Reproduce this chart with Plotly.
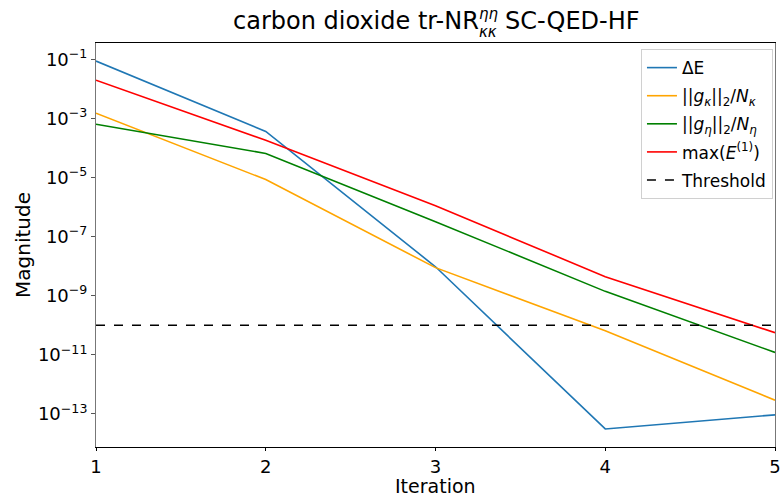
import plotly.graph_objects as go

iterations = [1, 2, 3, 4, 5]
delta_e = [8.7e-2, 3.6e-4, 9.5e-9, 3.1e-14, 9.3e-14]
g_kappa = [1.5e-3, 8.5e-6, 8.9e-9, 6.5e-11, 2.9e-13]
g_eta = [6.3e-4, 6.5e-5, 3.2e-7, 1.4e-9, 1.2e-11]
max_e1 = [1.95e-2, 1.8e-4, 1.1e-6, 4.4e-9, 5.6e-11]
threshold = 1e-10

ytick_exps = [-1, -3, -5, -7, -9, -11, -13]
ytick_vals = [10.0 ** e for e in ytick_exps]
ytick_text = ["10<sup>\u2212%d</sup>" % (-e) for e in ytick_exps]

FONT = "DejaVu Sans"
W, H = 780, 499
ML, MR, MT, MB = 96, 5, 43, 52


def px_x(p):
    return (p - ML) / (W - ML - MR)


def px_y(p):
    return (H - MB - p) / (H - MT - MB)


fig = go.Figure()
series = [
    (delta_e, "\u0394E", "#1f77b4"),
    (g_kappa, "||<i>g</i><sub><i>\u03ba</i></sub>||<sub>2</sub>/<i>N</i><sub><i>\u03ba</i></sub>", "#FFA500"),
    (g_eta, "||<i>g</i><sub><i>\u03b7</i></sub>||<sub>2</sub>/<i>N</i><sub><i>\u03b7</i></sub>", "#008000"),
    (max_e1, "max(<i>E</i><sup>(1)</sup>)", "#FF0000"),
]
for i, (vals, name, color) in enumerate(series):
    fig.add_trace(go.Scatter(x=iterations, y=vals, mode="lines", name=name,
                             legendgroup="g%d" % i,
                             line=dict(color=color, width=1.6)))
fig.add_trace(go.Scatter(x=[iterations[0], iterations[-1]], y=[threshold, threshold],
                         mode="lines", name="Threshold", legendgroup="g9",
                         line=dict(color="black", width=1.6, dash="dash")))

# title built from pieces so that super- and subscript are stacked
title_parts = [
    ("carbon dioxide tr-NR", 481, 21, "right", 24),
    ("<i>\u03b7\u03b7</i>", 477, 14, "left", 15),
    ("<i>\u03ba\u03ba</i>", 477, 32, "left", 15),
    ("SC-QED-HF", 503, 21, "left", 24),
]
for text, xp, yp, anchor, size in title_parts:
    fig.add_annotation(text=text, xref="paper", yref="paper", x=px_x(xp), y=px_y(yp),
                       xanchor=anchor, yanchor="middle", showarrow=False,
                       font=dict(size=size, family=FONT, color="black"))

# x-axis title as a positioned annotation
fig.add_annotation(text="Iteration", xref="paper", yref="paper", x=0.5, y=px_y(498),
                   xanchor="center", yanchor="bottom", showarrow=False, borderpad=0,
                   font=dict(size=19, family=FONT, color="black"))

fig.update_layout(
    width=W, height=H,
    margin=dict(l=ML, r=MR, t=MT, b=MB),
    paper_bgcolor="white", plot_bgcolor="white",
    font=dict(family=FONT, size=18, color="black"),
    showlegend=True,
    legend=dict(x=0.997, xanchor="right", y=0.985, yanchor="top",
                bgcolor="rgba(255,255,255,0.85)", bordercolor="#d0d0d0", borderwidth=1,
                font=dict(size=17, family=FONT), tracegroupgap=3),
    xaxis=dict(range=[1, 5], tickvals=iterations, ticktext=[str(i) for i in iterations],
               showgrid=False, zeroline=False, showline=True, linecolor="black",
               linewidth=1, mirror=True, ticks="outside", ticklen=3, tickcolor="black",
               tickfont=dict(size=18), ticklabeloverflow="allow", automargin=False),
    yaxis=dict(type="log", range=[-14.12, -0.45], tickvals=ytick_vals, ticktext=ytick_text,
               showgrid=False, zeroline=False, showline=True, linecolor="#777777",
               linewidth=1, mirror=True, ticks="outside", ticklen=4, tickcolor="#555555",
               tickfont=dict(size=18), automargin=False,
               title=dict(text="Magnitude", font=dict(size=20), standoff=1)),
)

fig.write_html("out.html")
